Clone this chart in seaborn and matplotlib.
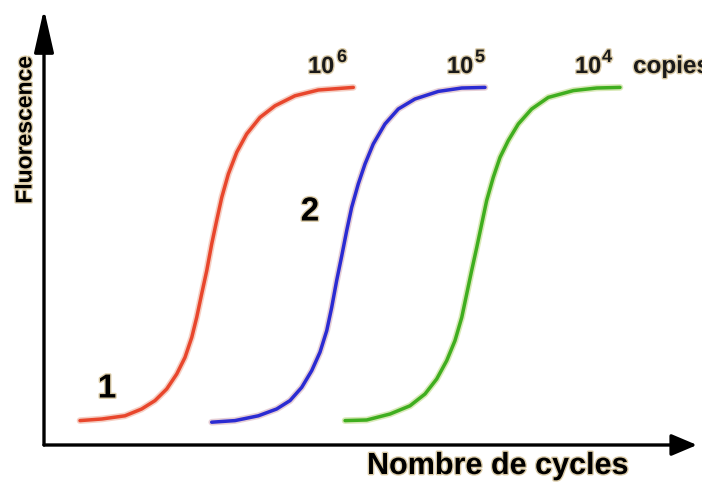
import matplotlib
matplotlib.use("Agg")
import matplotlib.pyplot as plt
import matplotlib.patheffects as pe
import numpy as np
import pandas as pd
import seaborn as sns

# ---- data (cycles, fluorescence in arbitrary units) ----
red_cycles = [2.40, 3.85, 5.40, 6.51, 7.40, 8.18, 8.85, 9.40, 9.85, 10.18, 10.51, 10.85,
              11.18, 11.51, 11.85, 12.29, 12.85, 13.51, 14.40, 15.40, 16.73, 18.29, 20.62]
red_fluo = [6.1, 6.5, 7.3, 9.0, 11.1, 14.0, 17.75, 21.9, 26.9, 31.9, 37.75, 43.6,
            50.25, 56.1, 61.9, 67.75, 73.2, 77.75, 81.9, 84.8, 87.3, 88.75, 89.4]

blue_cycles = [11.18, 12.73, 14.29, 15.51, 16.40, 17.18, 17.85, 18.40, 18.85, 19.18, 19.51, 19.85,
               20.18, 20.51, 20.95, 21.40, 21.95, 22.73, 23.62, 24.73, 26.29, 27.85, 29.40]
blue_fluo = [5.7, 6.1, 7.3, 9.0, 11.1, 14.4, 18.6, 23.2, 28.6, 34.4, 41.1, 47.3,
             53.6, 59.4, 65.25, 70.25, 75.25, 80.25, 84.0, 86.5, 88.4, 89.25, 89.4]

green_cycles = [20.07, 21.51, 23.07, 24.40, 25.40, 26.18, 26.85, 27.40, 27.85, 28.18, 28.51, 28.85,
                29.18, 29.51, 29.95, 30.40, 30.95, 31.62, 32.51, 33.62, 35.29, 36.85, 38.40]
green_fluo = [6.1, 6.25, 7.75, 9.8, 12.75, 16.5, 21.1, 26.1, 31.9, 37.75, 43.6, 49.4,
              55.25, 61.1, 66.9, 71.9, 76.1, 80.25, 84.0, 86.9, 88.6, 89.25, 89.4]

series_names = ["10^6", "10^5", "10^4"]
label_bases = ["10", "10", "10"]
label_exponents = ["6", "5", "4"]
x_label = "Nombre de cycles"
y_label = "Fluorescence"
copies_label = "copies"
point_labels = ["1", "2"]

# ---- build frame ----
df = pd.concat([
    pd.DataFrame({"cycle": red_cycles, "fluo": red_fluo, "copies": series_names[0]}),
    pd.DataFrame({"cycle": blue_cycles, "fluo": blue_fluo, "copies": series_names[1]}),
    pd.DataFrame({"cycle": green_cycles, "fluo": green_fluo, "copies": series_names[2]}),
], ignore_index=True)

sns.set_theme(style="white")
plt.rcParams["font.family"] = ["Liberation Sans", "DejaVu Sans"]

W, H = 702, 489
fig = plt.figure(figsize=(W / 100, H / 100), dpi=100)
ox, oy = 44, 446           # pixel of the axes origin
sx, sy = 15.0, 4.0         # pixels per data unit
ax = fig.add_axes([ox / W, (H - oy) / H, (W - ox) / W, oy / H])
ax.set_xlim(0, (W - ox) / sx)
ax.set_ylim(0, oy / sy)
ax.axis("off")

colors = {"10^6": "#e8462c", "10^5": "#2b2bd2", "10^4": "#3fae1f"}
halos = {"10^6": "#f5cfc4", "10^5": "#e6cfd6", "10^4": "#d9e9b8"}

sns.lineplot(data=df, x="cycle", y="fluo", hue="copies", palette=colors,
             hue_order=series_names, estimator=None, sort=False,
             linewidth=2.5, legend=False, ax=ax)
for line, name in zip(ax.get_lines(), series_names):
    line.set_solid_capstyle("round")
    line.set_solid_joinstyle("round")
    line.set_path_effects([pe.Stroke(linewidth=4.8, foreground=halos[name]), pe.Normal()])

# ---- axes arrows ----
ax.annotate("", xy=((697 - ox) / sx, 0), xytext=(0, 0),
            arrowprops=dict(arrowstyle="-|>,head_length=1.3,head_width=0.55",
                            lw=2.4, color="black", shrinkA=0, shrinkB=0),
            annotation_clip=False)
ax.annotate("", xy=(0, (oy - 10) / sy), xytext=(0, 0),
            arrowprops=dict(arrowstyle="-|>,head_length=2.2,head_width=0.5",
                            lw=2.4, color="black", shrinkA=0, shrinkB=0),
            annotation_clip=False)

text_halo = [pe.withStroke(linewidth=2.0, foreground="#dccca8")]

# ---- labels ----
fig.text(367 / W, 1 - 467 / H, x_label, ha="left", va="center",
         fontsize=22, fontweight="bold", color="black", path_effects=text_halo)
fig.text(25 / W, 1 - 131 / H, y_label, ha="center", va="center", rotation=90,
         fontsize=16.5, fontweight="bold", color="black", path_effects=text_halo)

base_px = [308, 447, 575]
exp_px = [337, 475, 602]
for base, ex, bpx, epx in zip(label_bases, label_exponents, base_px, exp_px):
    ax.text((bpx - ox) / sx, (oy - 74) / sy, base, ha="left", va="baseline",
            fontsize=17, fontweight="bold", color="#1a1a1a", path_effects=text_halo)
    ax.text((epx - ox) / sx, (oy - 63) / sy, ex, ha="left", va="baseline",
            fontsize=13, fontweight="bold", color="#1a1a1a", path_effects=text_halo)
ax.text((633 - ox) / sx, (oy - 74) / sy, copies_label, ha="left", va="baseline",
        fontsize=17.5, fontweight="bold", color="#1a1a1a", path_effects=text_halo,
        clip_on=False)

ax.text((107 - ox) / sx, (oy - 390) / sy, point_labels[0], ha="center", va="center",
        fontsize=24, fontweight="bold", color="black", path_effects=text_halo)
ax.text((310 - ox) / sx, (oy - 213) / sy, point_labels[1], ha="center", va="center",
        fontsize=24, fontweight="bold", color="black", path_effects=text_halo)

fig.savefig("out.png", dpi=100, facecolor="white")
